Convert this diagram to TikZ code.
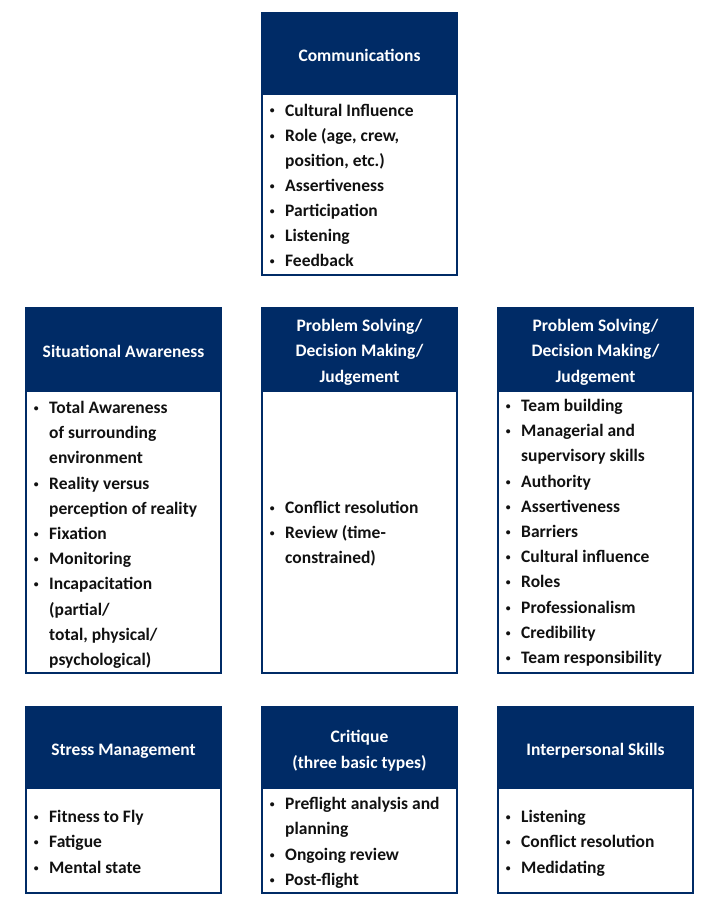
\documentclass[tikz,border=0pt]{standalone}
\usepackage{fontspec}
\setmainfont{Carlito}
\usepackage{graphicx}
\definecolor{navy}{RGB}{0,43,102}
\definecolor{bodyink}{RGB}{17,17,17}
\newcommand\bu{\llap{\raisebox{0.12em}{\scalebox{0.55}{•}}\hspace{10.5pt}}}
\newcommand\itemlines[5]{\foreach \t [count=\i from 0] in {#5}{\node[itemtxt] (#1\i) at (#2,{#3+#4*\i}) {\t};}}
\newcommand\hdrlines[5]{\foreach \t [count=\i from 0] in {#5}{\node[hdrtxt] (#1\i) at (#2,{#3+#4*\i}) {\t};}}
\tikzset{
  hdrbox/.style={draw=navy, fill=navy, line width=1.4pt, inner sep=0pt, outer sep=0pt, anchor=north west, minimum width=195pt},
  bodybox/.style={draw=navy, fill=white, line width=1.4pt, inner sep=0pt, outer sep=0pt, anchor=north west, minimum width=195pt},
  hdrtxt/.style={font=\fontsize{17.5}{20}\selectfont\bfseries, text=white, anchor=base, inner sep=0pt},
  itemtxt/.style={font=\fontsize{17.5}{20}\selectfont\bfseries, text=bodyink, anchor=base west, inner sep=0pt}
}
\begin{document}
\begin{tikzpicture}[x=1pt,y=-1pt]
\path[use as bounding box, fill=white] (0,0) rectangle (720,913);
% ---------- Communications
\node[bodybox, minimum height=181pt] (comB) at (262,94) {};
\node[hdrbox, minimum height=81pt] (comH) at (262,13) {};
\hdrlines{comh}{359.5}{61.5}{25.4}{Communications}
\itemlines{com}{285}{116}{25.1}{{\bu Cultural Influence},{\bu Role (age, crew,},{position, etc.)},{\bu Assertiveness},{\bu Participation},{\bu Listening},{\bu Feedback}}
% ---------- Situational Awareness
\node[bodybox, minimum height=282pt] (saB) at (26,391) {};
\node[hdrbox, minimum height=83pt] (saH) at (26,308) {};
\hdrlines{sah}{123.5}{357.5}{25.4}{Situational Awareness}
\itemlines{sa}{49}{413.5}{25.2}{{\bu Total Awareness},{of surrounding},{environment},{\bu Reality versus},{perception of reality},{\bu Fixation},{\bu Monitoring},{\bu Incapacitation},{(partial/},{total, physical/},{psychological)}}
% ---------- Problem Solving (middle)
\node[bodybox, minimum height=282pt] (psmB) at (262,391) {};
\node[hdrbox, minimum height=83pt] (psmH) at (262,308) {};
\hdrlines{psmh}{359.5}{331.5}{25.4}{Problem Solving/,Decision Making/,Judgement}
\itemlines{psm}{285}{513.5}{25.2}{{\bu Conflict resolution},{\bu Review (time-},{constrained)}}
% ---------- Problem Solving (right)
\node[bodybox, minimum height=282pt] (psrB) at (498,391) {};
\node[hdrbox, minimum height=83pt] (psrH) at (498,308) {};
\hdrlines{psrh}{595.5}{331.5}{25.4}{Problem Solving/,Decision Making/,Judgement}
\itemlines{psr}{521}{411.5}{25.2}{{\bu Team building},{\bu Managerial and},{supervisory skills},{\bu Authority},{\bu Assertiveness},{\bu Barriers},{\bu Cultural influence},{\bu Roles},{\bu Professionalism},{\bu Credibility},{\bu Team responsibility}}
% ---------- Stress Management
\node[bodybox, minimum height=105pt] (smB) at (26,788) {};
\node[hdrbox, minimum height=81pt] (smH) at (26,707) {};
\hdrlines{smh}{123.5}{755.5}{25.4}{Stress Management}
\itemlines{sm}{49}{822.5}{25.3}{{\bu Fitness to Fly},{\bu Fatigue},{\bu Mental state}}
% ---------- Critique
\node[bodybox, minimum height=105pt] (crB) at (262,788) {};
\node[hdrbox, minimum height=81pt] (crH) at (262,707) {};
\hdrlines{crh}{359.5}{742.5}{26}{Critique,(three basic types)}
\itemlines{cr}{285}{809.5}{25.3}{{\bu Preflight analysis and},{planning},{\bu Ongoing review},{\bu Post-flight}}
% ---------- Interpersonal Skills
\node[bodybox, minimum height=105pt] (isB) at (498,788) {};
\node[hdrbox, minimum height=81pt] (isH) at (498,707) {};
\hdrlines{ish}{595.5}{755.5}{25.4}{Interpersonal Skills}
\itemlines{is}{521}{822.5}{25.3}{{\bu Listening},{\bu Conflict resolution},{\bu Medidating}}
\end{tikzpicture}
\end{document}
